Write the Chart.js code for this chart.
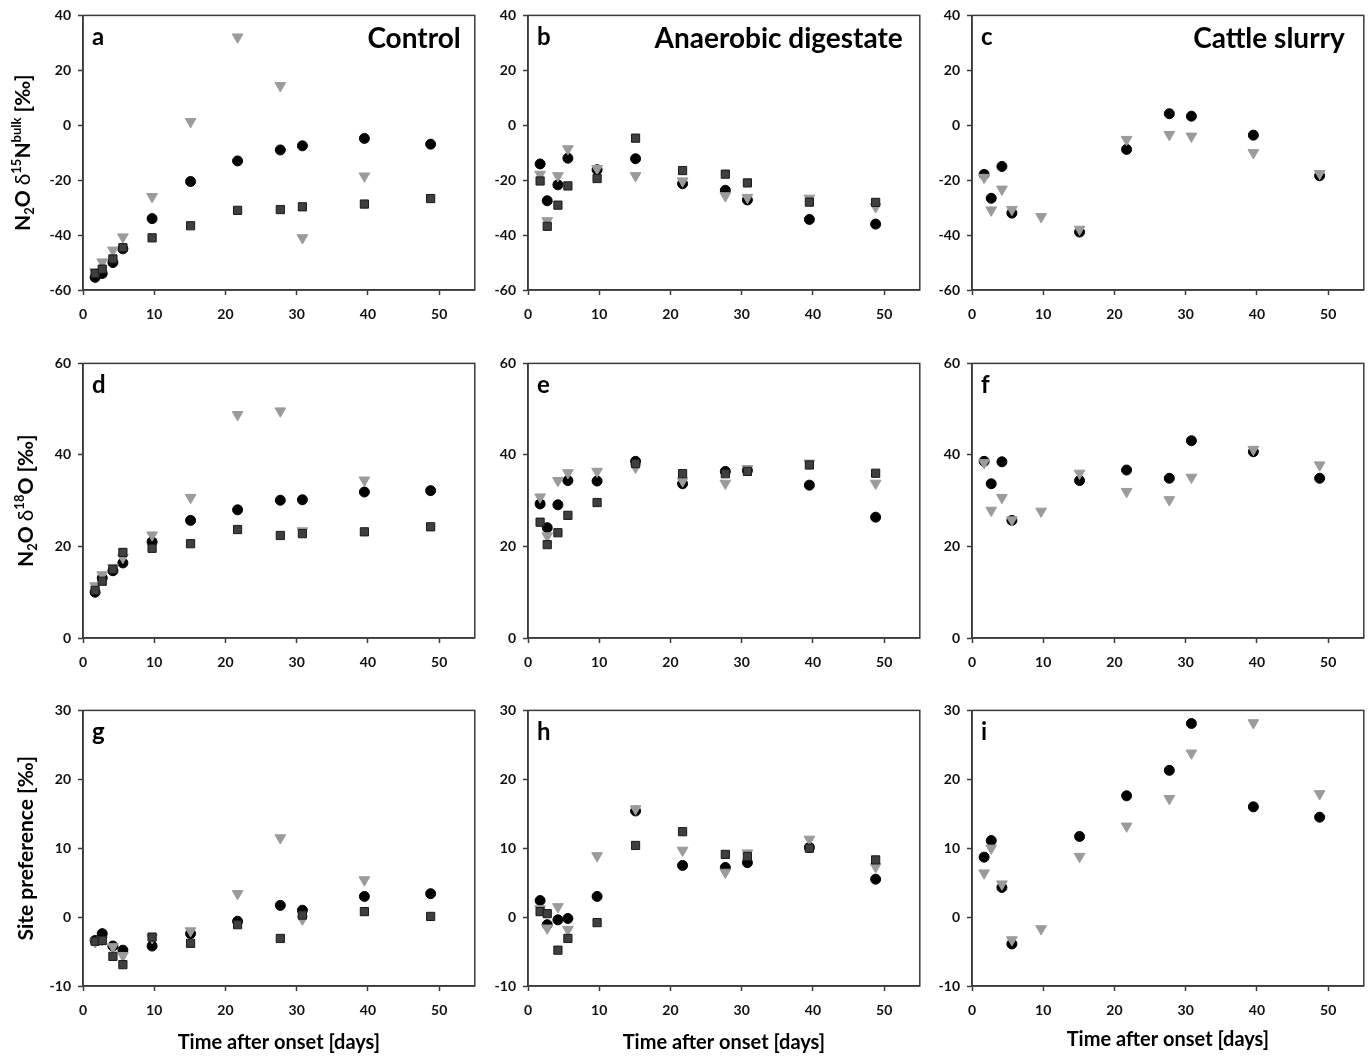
<!DOCTYPE html>
<html>
<head>
<meta charset="utf-8">
<title>N2O isotopic signatures</title>
<script src="https://cdn.jsdelivr.net/npm/chart.js@4.4.1/dist/chart.umd.min.js"></script>
<style>
  html, body { margin: 0; padding: 0; background: #fff; }
  #figure { position: relative; width: 1371px; height: 1057px; overflow: hidden; }
  #figure canvas { position: absolute; }
</style>
</head>
<body>
<div id="figure"></div>
<script>
// sampling days (x) shared by all panels
const days = [1.7, 2.7, 4.2, 5.6, 9.7, 15.1, 21.7, 27.7, 30.8, 39.5, 48.8]

// row 1: N2O d15N bulk
const ctrlBulk1 = [-55.4, -54.0, -50.0, -45.0, -34.0, -20.5, -13.0, -9.0, -7.5, -4.8, -6.9]
const ctrlBulk2 = [-54.0, -52.4, -48.7, -44.6, -41.0, -36.6, -31.0, -30.7, -29.7, -28.7, -26.7]
const ctrlBulk3 = [-53.4, -49.8, -45.5, -40.7, -26.0, 1.3, 32.1, 14.4, -41.0, -18.5, null]
const digBulk1 = [-14.1, -27.5, -21.7, -12.0, -16.2, -12.2, -21.3, -23.7, -27.2, -34.3, -36.0]
const digBulk2 = [-20.3, -36.8, -29.1, -22.1, -19.4, -4.7, -16.5, -17.8, -21.0, -28.0, -28.1]
const digBulk3 = [-17.9, -34.8, -18.4, -8.6, -15.8, -18.4, -20.3, -25.7, -26.3, -26.6, -29.7]
const slurBulk1 = [-17.9, -26.6, -15.0, -32.0, null, -38.9, -8.8, 4.2, 3.3, -3.6, -18.4]
const slurBulk3 = [-19.0, -30.9, -23.3, -30.7, -33.3, -37.9, -5.2, -3.4, -4.0, -10.0, -17.6]

// row 2: N2O d18O
const ctrlO1 = [10.0, 13.1, 14.7, 16.4, 21.0, 25.7, 28.0, 30.1, 30.2, 31.9, 32.2]
const ctrlO2 = [10.4, 12.4, 15.0, 18.7, 19.6, 20.6, 23.7, 22.4, 22.8, 23.2, 24.3]
const ctrlO3 = [11.4, 13.8, 15.4, 17.6, 22.5, 30.7, 48.8, 49.6, 23.4, 34.5, null]
const digO1 = [29.3, 24.1, 29.1, 34.4, 34.3, 38.6, 33.7, 36.4, 36.6, 33.4, 26.4]
const digO2 = [25.3, 20.4, 23.0, 26.8, 29.6, 38.1, 35.9, 35.9, 36.4, 37.8, 36.0]
const digO3 = [30.8, 22.3, 34.4, 36.1, 36.4, 37.3, 34.3, 33.8, 37.0, 38.2, 33.8]
const slurO1 = [38.6, 33.7, 38.5, 25.7, null, 34.4, 36.7, 34.9, 43.1, 40.7, 34.9]
const slurO3 = [38.3, 27.9, 30.7, 25.8, 27.7, 36.0, 32.0, 30.2, 35.1, 41.2, 37.8]

// row 3: site preference
const ctrlSP1 = [-3.4, -2.4, -4.2, -4.8, -4.2, -2.4, -0.6, 1.7, 1.0, 3.0, 3.4]
const ctrlSP2 = [-3.5, -3.4, -5.7, -6.9, -2.9, -3.8, -1.1, -3.1, 0.3, 0.8, 0.1]
const ctrlSP3 = [-3.6, -3.3, -4.3, -5.6, -3.0, -2.0, 3.4, 11.5, -0.3, 5.4, null]
const digSP1 = [2.4, -1.1, -0.4, -0.2, 3.0, 15.4, 7.5, 7.2, 7.9, 10.1, 5.5]
const digSP2 = [0.8, 0.5, -4.8, -3.1, -0.8, 10.4, 12.4, 9.1, 8.8, 10.0, 8.3]
const digSP3 = [1.2, -1.6, 1.5, -1.8, 8.9, 15.7, 9.7, 6.5, 9.3, 11.3, 7.3]
const slurSP1 = [8.7, 11.1, 4.3, -3.9, null, 11.7, 17.6, 21.3, 28.1, 16.0, 14.5]
const slurSP3 = [6.4, 10.0, 4.8, -3.3, -1.7, 8.8, 13.2, 17.2, 23.8, 28.2, 17.9]

const treatments = ["Control", "Anaerobic digestate", "Cattle slurry"]
const panelLetters = ["a", "b", "c", "d", "e", "f", "g", "h", "i"]
const xTitle = "Time after onset [days]"

const FONT = "Lato, 'Open Sans', sans-serif"

// layout of the plot boxes in the page
const cols = [{ L: 83, R: 478, nameInset: 14 }, { L: 528, R: 923, nameInset: 17 }, { L: 972, R: 1367, nameInset: 19 }]
const rows = [
  { T: 14, B: 290, min: -60, max: 40, step: 20, titleX: 30,
    yTitle: [{ t: "N" }, { t: "2", sub: true }, { t: "O " }, { t: "δ", thin: true }, { t: "15", sup: true }, { t: "N" }, { t: "bulk", sup: true }, { t: " [‰]" }] },
  { T: 362, B: 638, min: 0, max: 60, step: 20, titleX: 33,
    yTitle: [{ t: "N" }, { t: "2", sub: true }, { t: "O " }, { t: "δ", thin: true }, { t: "18", sup: true }, { t: "O [‰]" }] },
  { T: 709, B: 986, min: -10, max: 30, step: 10, titleX: 33,
    yTitle: [{ t: "Site preference [‰]" }] }
]

const seriesGrid = [
  [[ctrlBulk1, ctrlBulk2, ctrlBulk3], [digBulk1, digBulk2, digBulk3], [slurBulk1, null, slurBulk3]],
  [[ctrlO1, ctrlO2, ctrlO3], [digO1, digO2, digO3], [slurO1, null, slurO3]],
  [[ctrlSP1, ctrlSP2, ctrlSP3], [digSP1, digSP2, digSP3], [slurSP1, null, slurSP3]]
]

const markers = [
  { label: "Series 1", pointStyle: "circle", radius: 5, bg: "#000000", border: "#000000", rotation: 0, order: 3 },
  { label: "Series 2", pointStyle: "rect", radius: 5.8, bg: "#3f3f3f", border: "#1a1a1a", rotation: 0, order: 1 },
  { label: "Series 3", pointStyle: "triangle", radius: 6.2, bg: "#9b9b9b", border: "#9b9b9b", rotation: 180, order: 2 }
]

function drawRotatedRich(ctx, parts, x, yc, size) {
  const small = Math.round(size * 0.64)
  const fontOf = (p) => `${p.thin ? "normal" : "bold"} ${p.sub || p.sup ? small : size}px ${FONT}`
  let total = 0
  parts.forEach((p) => { ctx.font = fontOf(p); total += ctx.measureText(p.t).width })
  ctx.save()
  ctx.translate(x, yc)
  ctx.rotate(-Math.PI / 2)
  ctx.textAlign = "left"
  ctx.textBaseline = "alphabetic"
  let cx = -total / 2
  parts.forEach((p) => {
    ctx.font = fontOf(p)
    const dy = p.sub ? size * 0.2 : p.sup ? -size * 0.42 : 0
    ctx.fillText(p.t, cx, dy)
    cx += ctx.measureText(p.t).width
  })
  ctx.restore()
}

const panelDecor = {
  id: "panelDecor",
  afterDatasetsDraw(chart, args, opts) {
    const { ctx, chartArea: a } = chart
    ctx.save()
    ctx.strokeStyle = "#3a3a3a"
    ctx.lineWidth = 1.5
    ctx.strokeRect(a.left, a.top, a.right - a.left, a.bottom - a.top)
    ctx.fillStyle = "#000"
    ctx.textBaseline = "alphabetic"
    ctx.textAlign = "left"
    ctx.font = `bold 24px ${FONT}`
    ctx.fillText(opts.letter, a.left + 9, a.top + 30)
    if (opts.name) {
      ctx.font = `bold 28px ${FONT}`
      ctx.textAlign = "right"
      ctx.fillText(opts.name, a.right - opts.nameInset, a.top + 33)
    }
    if (opts.xTitle) {
      ctx.font = `bold 20px ${FONT}`
      ctx.textAlign = "center"
      ctx.fillText(opts.xTitle, (a.left + a.right) / 2, a.bottom + opts.xTitleOffset)
    }
    if (opts.yTitle) drawRotatedRich(ctx, opts.yTitle, opts.yTitleX, (a.top + a.bottom) / 2, 21)
    ctx.restore()
  }
}

const figure = document.getElementById("figure")
const PAD_L = 83, PAD_T = 14, PAD_R = 4, PAD_B = 70

rows.forEach((row, r) => {
  cols.forEach((col, c) => {
    const canvas = document.createElement("canvas")
    const w = col.R - col.L + PAD_L + PAD_R
    const h = row.B - row.T + PAD_T + PAD_B
    canvas.width = w
    canvas.height = h
    canvas.style.left = `${col.L - PAD_L}px`
    canvas.style.top = `${row.T - PAD_T}px`
    canvas.style.width = `${w}px`
    canvas.style.height = `${h}px`
    figure.appendChild(canvas)

    const datasets = []
    seriesGrid[r][c].forEach((values, k) => {
      if (!values) return
      const m = markers[k]
      datasets.push({
        label: m.label,
        data: days.map((d, i) => ({ x: d, y: values[i] })).filter((p) => p.y !== null),
        pointStyle: m.pointStyle,
        pointRadius: m.radius,
        pointRotation: m.rotation,
        backgroundColor: m.bg,
        borderColor: m.border,
        borderWidth: 1,
        order: m.order
      })
    })

    const axisFont = { family: FONT, size: 14, weight: "bold" }

    new Chart(canvas, {
      type: "scatter",
      data: { datasets },
      plugins: [panelDecor],
      options: {
        responsive: false,
        animation: false,
        devicePixelRatio: 1,
        layout: { padding: { left: 0, top: PAD_T, right: PAD_R, bottom: 0 } },
        plugins: {
          legend: { display: false },
          tooltip: { enabled: false },
          panelDecor: {
            letter: panelLetters[r * 3 + c],
            name: r === 0 ? treatments[c] : null,
            nameInset: col.nameInset,
            xTitle: r === 2 ? xTitle : null,
            xTitleOffset: c === 2 ? 60 : 63,
            yTitle: c === 0 ? row.yTitle : null,
            yTitleX: row.titleX
          }
        },
        scales: {
          x: {
            type: "linear",
            min: 0,
            max: 55,
            afterFit: (s) => { s.height = PAD_B },
            grid: { drawOnChartArea: false, drawTicks: true, tickLength: 5, tickColor: "#3a3a3a", tickWidth: 1.5 },
            border: { display: true, color: "#3a3a3a", width: 1.5 },
            ticks: { stepSize: 10, includeBounds: false, color: "#111", font: axisFont, padding: 11, maxRotation: 0 }
          },
          y: {
            type: "linear",
            min: row.min,
            max: row.max,
            afterFit: (s) => { s.width = PAD_L },
            grid: { drawOnChartArea: false, drawTicks: true, tickLength: 5, tickColor: "#3a3a3a", tickWidth: 1.5 },
            border: { display: true, color: "#3a3a3a", width: 1.5 },
            ticks: { stepSize: row.step, color: "#111", font: axisFont, padding: 7 }
          }
        }
      }
    })
  })
})
</script>
</body>
</html>
